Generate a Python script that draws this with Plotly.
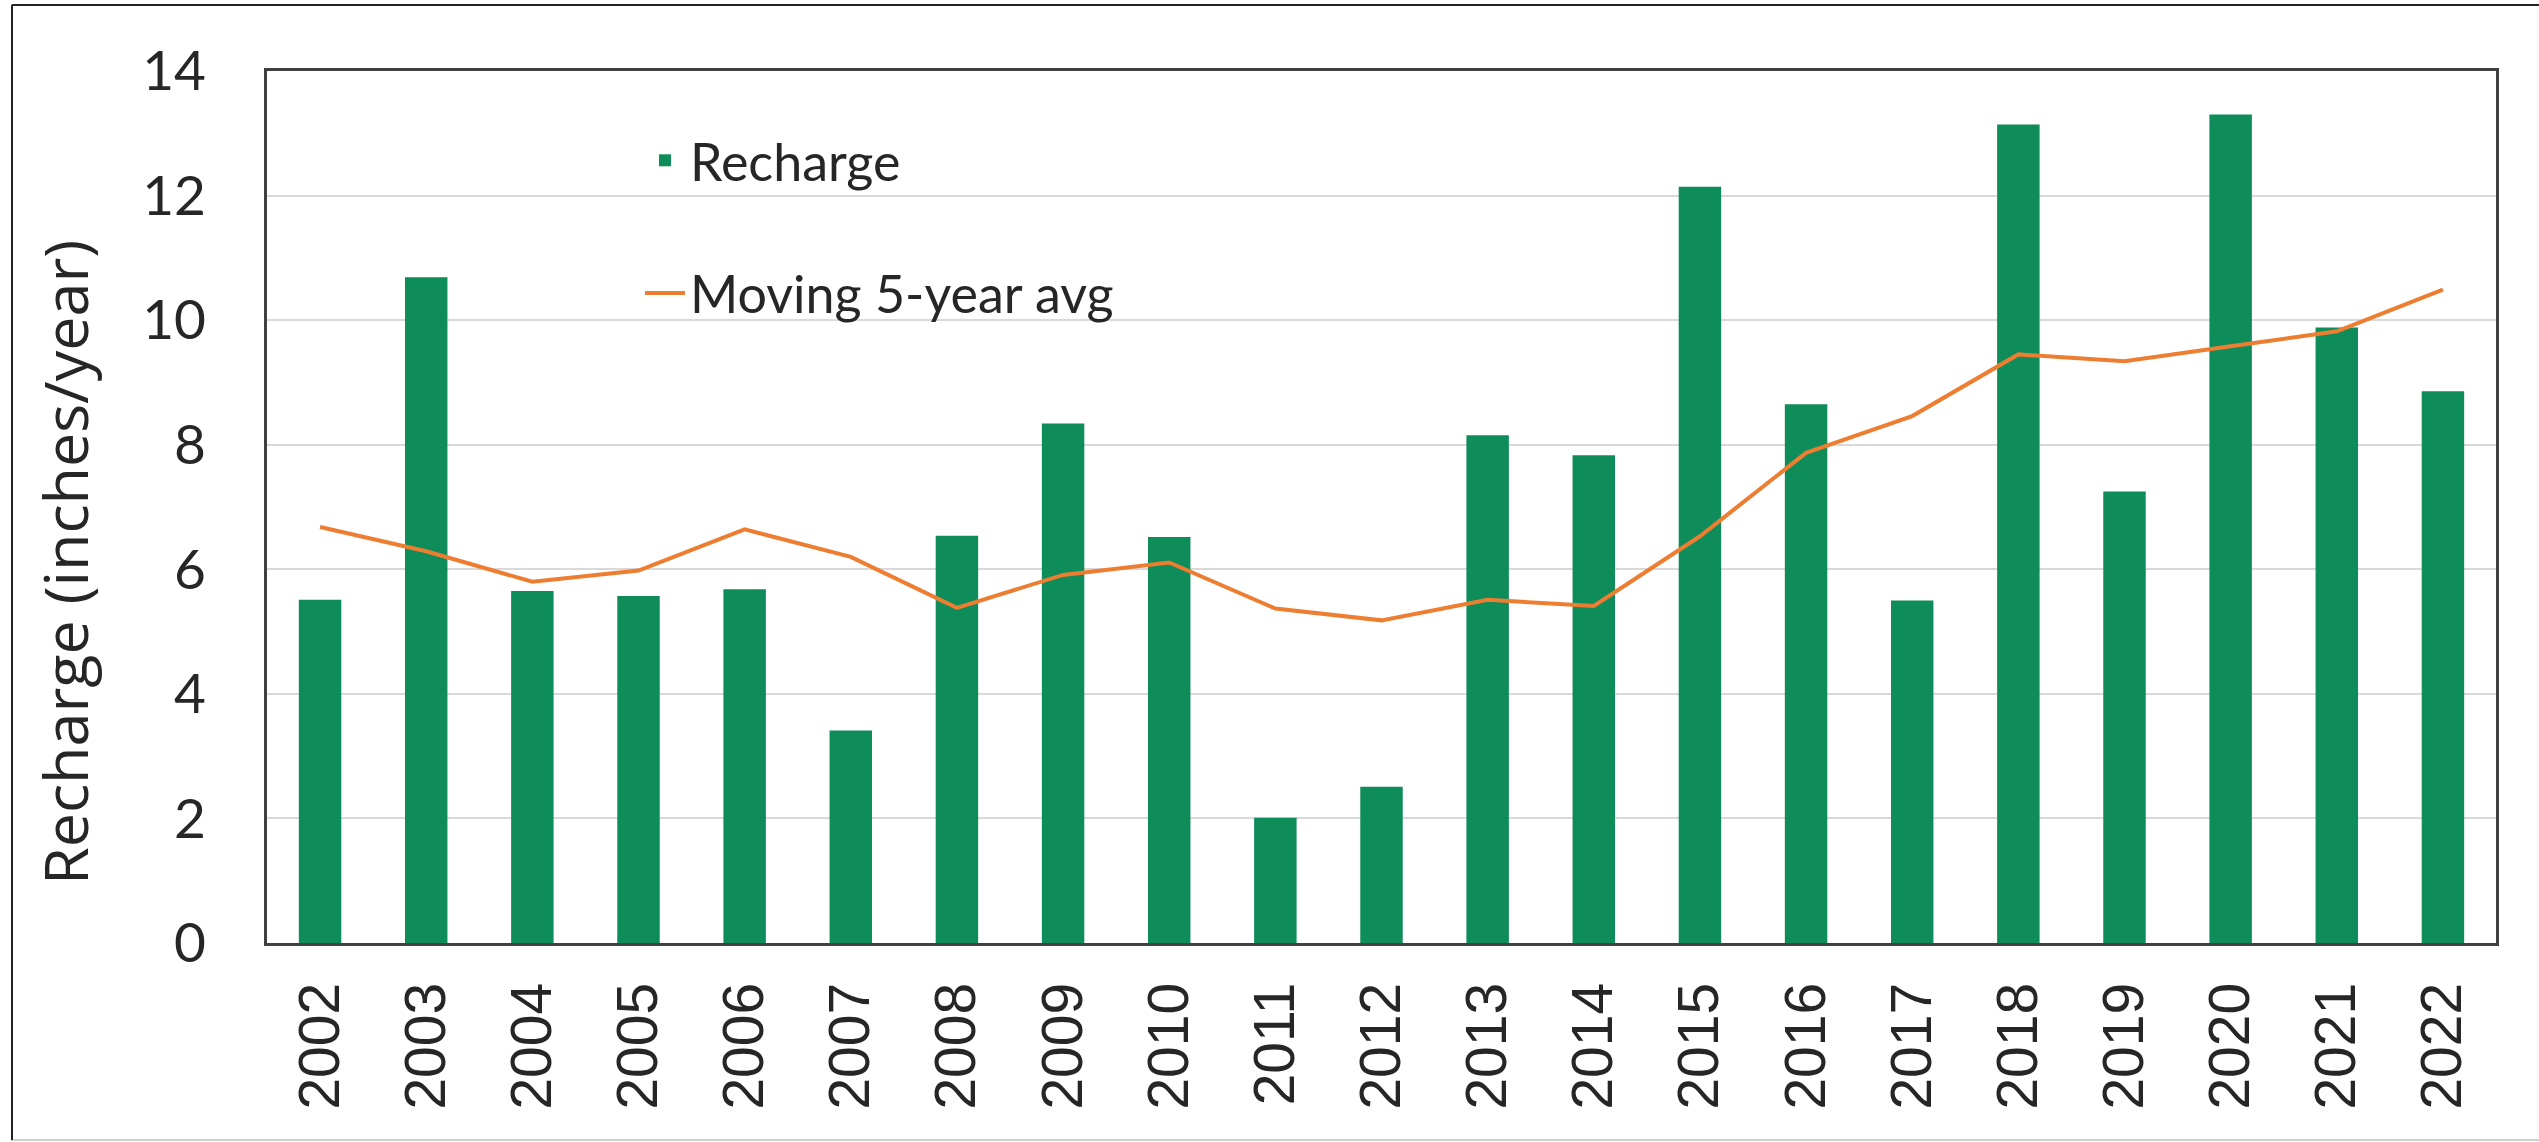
import plotly.graph_objects as go

years = [str(y) for y in range(2002, 2023)]
recharge = [5.51, 10.69, 5.65, 5.57, 5.68, 3.41, 6.54, 8.34, 6.52, 2.01, 2.51,
            8.15, 7.83, 12.14, 8.65, 5.50, 13.14, 7.25, 13.30, 9.88, 8.86]
moving_avg = [6.68, 6.29, 5.80, 5.98, 6.64, 6.20, 5.38, 5.91, 6.11, 5.37, 5.18,
              5.51, 5.41, 6.53, 7.87, 8.46, 9.45, 9.34, 9.58, 9.82, 10.49]
y_ticks = [0, 2, 4, 6, 8, 10, 12, 14]

W, H = 2539, 1142
L, R, T, B = 267, 43, 71, 199
pw, ph = W - L - R, H - T - B


def px(xp):
    return (xp - L) / pw


def py(yp):
    return 1 - (yp - T) / ph


fig = go.Figure()
fig.add_trace(go.Bar(x=years, y=recharge, name="Recharge",
                     marker=dict(color="#0E8C59", line=dict(width=0)),
                     legendgroup="a"))
fig.add_trace(go.Scatter(x=years, y=moving_avg, name="Moving 5-year avg",
                         mode="lines", line=dict(color="#ED7D31", width=4),
                         legendgroup="b"))

fig.update_layout(
    width=W, height=H,
    margin=dict(l=L, r=R, t=T, b=B),
    paper_bgcolor="white", plot_bgcolor="white",
    bargap=0.6,
    showlegend=True,
    legend=dict(x=px(640), y=py(120), xanchor="left", yanchor="top",
                bgcolor="rgba(0,0,0,0)", font=dict(family="Lato", size=52, color="#262626"),
                tracegroupgap=62, traceorder="grouped", itemwidth=40),
    xaxis=dict(type="category", showline=True, mirror=True, linecolor="#404040", linewidth=3,
               tickangle=-90, tickfont=dict(family="Liberation Sans", size=57, color="#262626"),
               ticks="", ticklabelstandoff=14, showgrid=False),
    yaxis=dict(range=[0, 14], tickvals=y_ticks, showline=True, mirror=True,
               linecolor="#404040", linewidth=3, showgrid=True, gridcolor="#D9D9D9", gridwidth=2,
               tickfont=dict(family="Lato", size=55, color="#262626"),
               ticks="", ticklabelstandoff=47, zeroline=False),
    annotations=[dict(text="Recharge (inches/year)", textangle=-90, xref="paper", yref="paper",
                      x=px(64), y=py(563), xanchor="center", yanchor="middle",
                      showarrow=False, font=dict(family="Open Sans", size=61, color="#262626"))],
    shapes=[
        dict(type="rect", xref="paper", yref="paper",
             x0=px(12), x1=px(2545), y0=py(1140), y1=py(5),
             line=dict(color="#D0D0D0", width=2), layer="below"),
        dict(type="line", xref="paper", yref="paper",
             x0=px(12), x1=px(2545), y0=py(5), y1=py(5),
             line=dict(color="#222222", width=2), layer="below"),
        dict(type="line", xref="paper", yref="paper",
             x0=px(12), x1=px(12), y0=py(5), y1=py(1140),
             line=dict(color="#222222", width=2), layer="below"),
    ],
)

fig.write_html("out.html", config={"displayModeBar": False},
               post_script="document.body.style.margin='0';")
